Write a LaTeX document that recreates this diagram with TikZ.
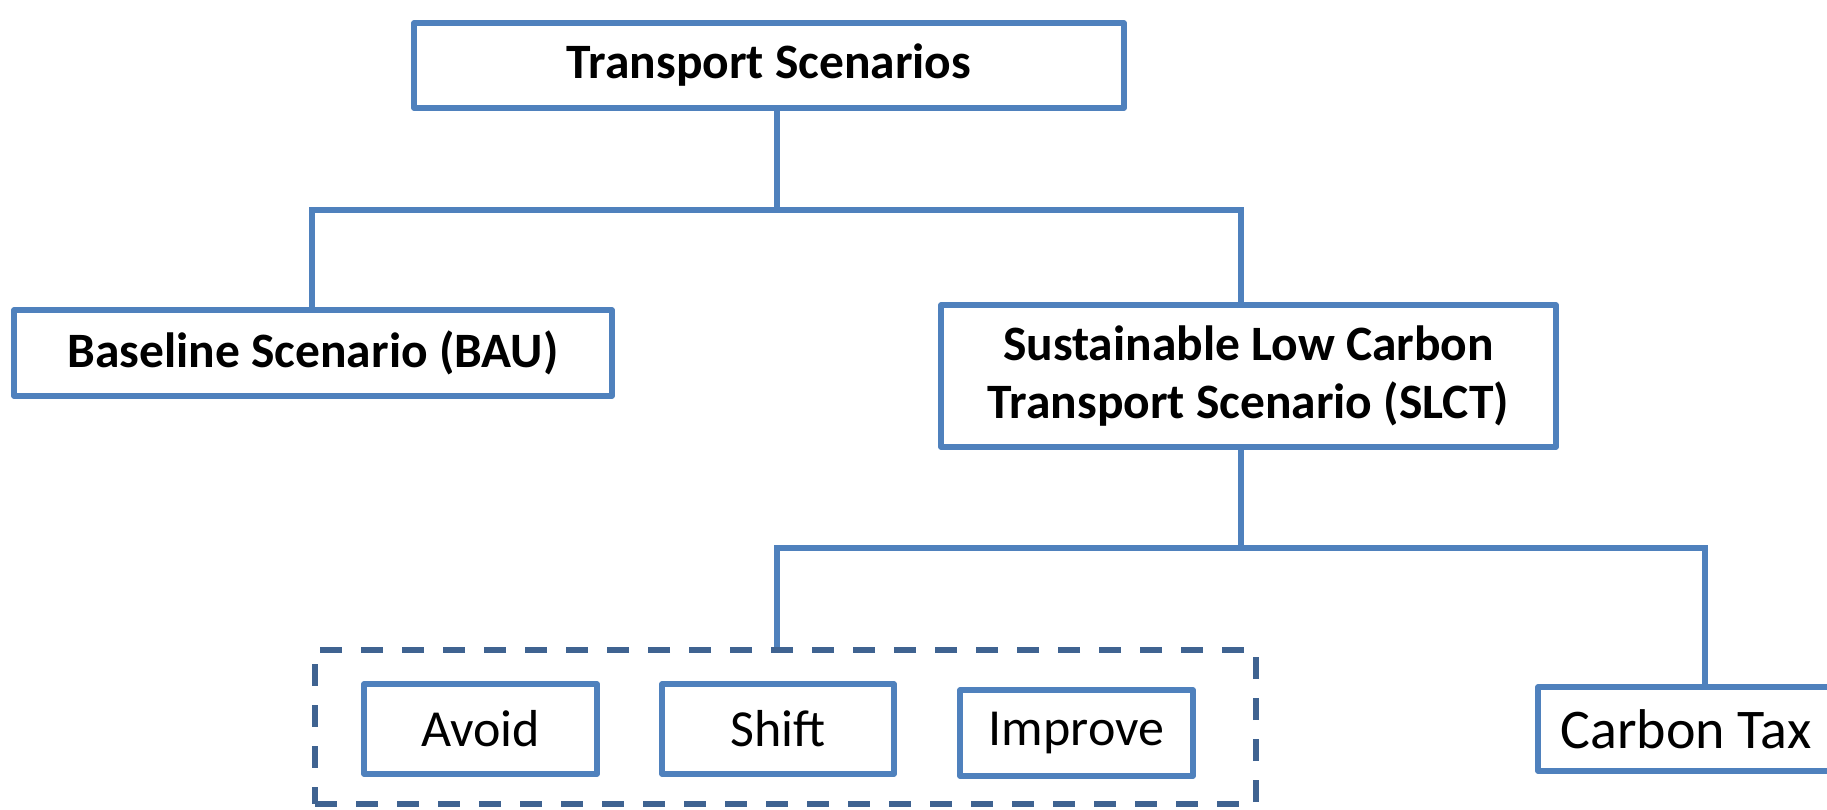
\documentclass[tikz,border=0pt]{standalone}
\usepackage{fontspec}
\setmainfont{Carlito}
\definecolor{boxblue}{HTML}{4F81BD}
\definecolor{grpblue}{HTML}{3F6391}
\begin{document}
\begin{tikzpicture}[x=1pt,y=-1pt,
  box/.style={draw=boxblue, line width=5.5pt, fill=white, line join=round,
    inner sep=0pt, align=center, font=\fontsize{52}{60}\selectfont},
  headbox/.style={box, font=\fontsize{49.5}{58}\selectfont\bfseries},
  link/.style={draw=boxblue, line width=5.5pt},
  groupbox/.style={draw=grpblue, line width=6pt, dash pattern=on 22pt off 19pt,
    inner sep=0pt}]
\useasboundingbox (0,0) rectangle (1827,809);

% top level
\node[headbox, minimum width=710pt, minimum height=85pt] (ts) at (769,65.5) {Transport Scenarios};
\node[headbox, minimum width=598pt, minimum height=86pt] (bau) at (313,353) {Baseline Scenario (BAU)};
\node[headbox, minimum width=615pt, minimum height=142pt] (slct) at (1248.5,376)
  {Sustainable Low Carbon\\Transport Scenario (SLCT)};

% measures
\node[groupbox, minimum width=941pt, minimum height=154pt] (grp) at (785.5,727) {};
\node[box, minimum width=233pt, minimum height=90pt] (avoid) at (480.5,729) {Avoid};
\node[box, minimum width=232pt, minimum height=90pt] (shift) at (778,729) {Shift};
\node[box, minimum width=233pt, minimum height=86pt] (improve) at (1076.5,733) {Improve};
\node[box, minimum width=296pt, minimum height=84pt, font=\fontsize{56}{64}\selectfont]
  (ctax) at (1686,729) {Carbon Tax};

% first branching
\coordinate (j1) at (777,210);
\coordinate (busA) at (312,210);
\coordinate (busB) at (1241,210);
\draw[link] (ts.south -| j1) -- (j1);
\draw[link] (busA |- bau.north) -- (busA) -- (busB) -- (busB |- slct.north);

% second branching
\coordinate (j2) at (1241,548);
\coordinate (busC) at (777,548);
\coordinate (busD) at (1705,548);
\draw[link] (slct.south -| j2) -- (j2);
\draw[link] (busC |- grp.north) -- (busC) -- (busD) -- (busD |- ctax.north);
\end{tikzpicture}
\end{document}
